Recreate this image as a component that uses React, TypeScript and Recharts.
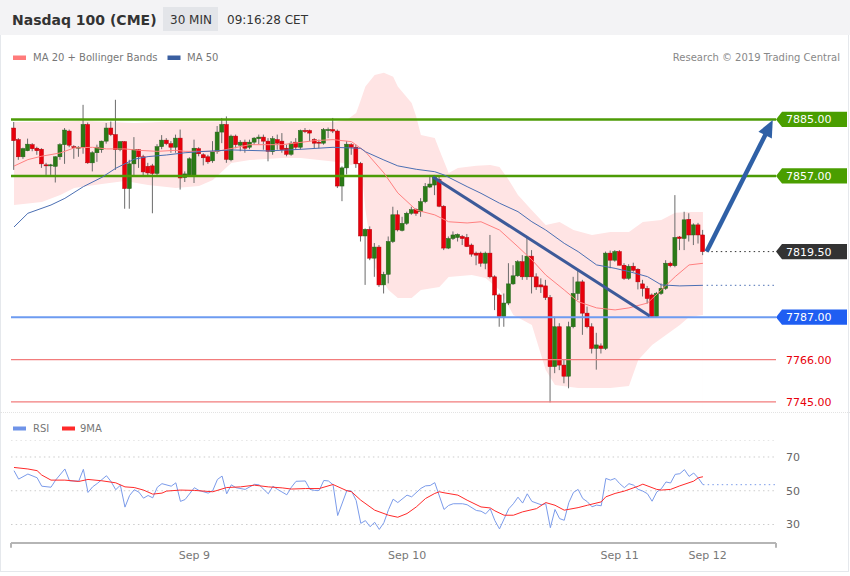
import React from 'react';
import { ComposedChart, Bar, Line, Area, XAxis, YAxis, ReferenceLine, CartesianGrid } from 'recharts';

const FONT = '"DejaVu Sans", Verdana, sans-serif';

// OHLC for each 30-min candle
const candles: [number, number, number, number][] = [
  [7880.75, 7883.75, 7860.0, 7874.5],
  [7875.0, 7875.75, 7865.0, 7866.5],
  [7866.5, 7871.0, 7865.5, 7870.5],
  [7869.5, 7875.5, 7869.25, 7872.75],
  [7872.5, 7873.25, 7869.25, 7870.5],
  [7870.75, 7871.5, 7867.5, 7869.5],
  [7870.25, 7870.75, 7861.0, 7863.0],
  [7862.5, 7863.5, 7857.5, 7862.0],
  [7862.25, 7863.0, 7857.5, 7862.5],
  [7861.75, 7866.75, 7853.75, 7866.5],
  [7866.5, 7873.25, 7865.0, 7872.5],
  [7872.5, 7880.75, 7863.0, 7879.75],
  [7879.25, 7880.0, 7871.25, 7872.25],
  [7871.5, 7872.25, 7865.5, 7871.25],
  [7871.0, 7871.75, 7866.5, 7871.25],
  [7871.25, 7892.25, 7868.0, 7882.5],
  [7882.5, 7883.5, 7863.0, 7863.5],
  [7863.5, 7869.25, 7859.25, 7868.5],
  [7868.5, 7872.5, 7864.0, 7871.25],
  [7870.0, 7874.5, 7868.5, 7874.25],
  [7874.25, 7883.25, 7873.0, 7880.75],
  [7880.75, 7884.0, 7876.75, 7877.5],
  [7877.5, 7894.75, 7860.0, 7870.0],
  [7870.0, 7874.25, 7869.25, 7874.0],
  [7874.0, 7874.25, 7840.75, 7850.75],
  [7850.75, 7865.0, 7840.75, 7863.0],
  [7863.0, 7876.25, 7857.25, 7870.0],
  [7870.0, 7870.25, 7861.0, 7866.5],
  [7866.5, 7867.5, 7856.75, 7859.0],
  [7861.75, 7863.5, 7857.25, 7858.5],
  [7862.0, 7863.0, 7838.5, 7858.25],
  [7858.25, 7872.75, 7856.75, 7871.5],
  [7871.5, 7877.25, 7870.25, 7874.75],
  [7874.75, 7875.75, 7872.25, 7873.0],
  [7873.0, 7874.25, 7868.5, 7871.25],
  [7871.25, 7877.5, 7868.5, 7875.75],
  [7875.75, 7880.0, 7850.25, 7856.0],
  [7856.25, 7859.25, 7854.0, 7858.0],
  [7857.5, 7866.25, 7856.75, 7865.5],
  [7857.5, 7875.0, 7853.5, 7870.75],
  [7870.5, 7871.25, 7866.75, 7868.0],
  [7867.5, 7868.25, 7862.25, 7866.0],
  [7866.5, 7867.5, 7863.0, 7864.0],
  [7864.5, 7874.25, 7863.5, 7869.0],
  [7869.0, 7881.75, 7868.0, 7878.75],
  [7878.75, 7885.75, 7873.25, 7882.5],
  [7882.5, 7886.5, 7863.5, 7865.25],
  [7865.0, 7877.5, 7864.25, 7876.75],
  [7876.75, 7877.5, 7870.75, 7872.5],
  [7872.25, 7874.75, 7869.25, 7873.75],
  [7873.75, 7875.0, 7868.5, 7870.75],
  [7871.25, 7875.0, 7870.25, 7873.75],
  [7873.75, 7876.25, 7872.5, 7875.75],
  [7875.5, 7877.5, 7872.75, 7876.25],
  [7876.25, 7877.5, 7870.0, 7874.25],
  [7874.25, 7875.75, 7864.25, 7869.25],
  [7869.0, 7876.75, 7867.5, 7875.5],
  [7875.0, 7877.5, 7870.0, 7873.25],
  [7874.25, 7878.25, 7868.5, 7870.0],
  [7870.75, 7872.5, 7866.75, 7867.75],
  [7867.75, 7874.25, 7867.0, 7873.25],
  [7873.75, 7875.75, 7870.0, 7871.25],
  [7871.25, 7880.0, 7870.0, 7879.5],
  [7879.5, 7880.75, 7878.25, 7879.25],
  [7879.5, 7880.0, 7874.25, 7878.25],
  [7875.0, 7875.75, 7870.75, 7873.25],
  [7873.75, 7875.0, 7870.75, 7873.25],
  [7873.25, 7880.75, 7872.5, 7880.0],
  [7880.0, 7881.0, 7875.75, 7880.0],
  [7880.0, 7885.75, 7878.25, 7879.25],
  [7879.25, 7880.0, 7851.0, 7852.0],
  [7852.0, 7861.75, 7844.5, 7861.0],
  [7861.0, 7874.25, 7857.75, 7872.75],
  [7872.5, 7873.25, 7867.5, 7871.25],
  [7871.25, 7872.5, 7861.0, 7863.0],
  [7863.25, 7864.0, 7824.5, 7827.25],
  [7827.25, 7831.0, 7803.0, 7830.5],
  [7830.5, 7832.0, 7815.25, 7816.25],
  [7816.25, 7823.75, 7807.0, 7821.75],
  [7821.75, 7822.75, 7802.0, 7803.0],
  [7803.0, 7809.5, 7798.75, 7808.25],
  [7808.25, 7827.0, 7803.75, 7824.5],
  [7824.5, 7841.75, 7823.75, 7837.75],
  [7837.75, 7840.0, 7829.5, 7830.25],
  [7830.0, 7836.75, 7829.5, 7833.5],
  [7833.5, 7839.25, 7832.75, 7838.5],
  [7838.5, 7841.75, 7837.75, 7840.25],
  [7840.25, 7841.0, 7837.25, 7838.5],
  [7839.25, 7846.0, 7836.75, 7844.25],
  [7844.25, 7853.5, 7843.5, 7851.75],
  [7851.5, 7857.5, 7851.0, 7853.0],
  [7852.5, 7857.5, 7847.5, 7856.5],
  [7855.25, 7856.5, 7841.5, 7842.0],
  [7842.0, 7842.5, 7820.25, 7821.25],
  [7821.25, 7827.0, 7820.75, 7826.0],
  [7826.0, 7829.5, 7825.25, 7827.75],
  [7826.5, 7828.5, 7824.5, 7828.0],
  [7827.0, 7827.75, 7822.75, 7826.0],
  [7826.5, 7828.25, 7821.75, 7822.0],
  [7822.75, 7823.5, 7817.0, 7818.25],
  [7818.75, 7819.5, 7812.75, 7817.75],
  [7818.75, 7819.5, 7812.0, 7813.75],
  [7813.75, 7819.5, 7810.75, 7818.75],
  [7818.75, 7827.75, 7806.25, 7807.0],
  [7807.0, 7807.75, 7790.5, 7798.0],
  [7798.0, 7798.75, 7782.25, 7787.25],
  [7787.25, 7798.75, 7782.25, 7794.0],
  [7794.0, 7813.75, 7793.0, 7803.5],
  [7803.5, 7812.75, 7803.0, 7807.5],
  [7807.5, 7815.25, 7807.0, 7814.5],
  [7814.5, 7817.75, 7805.5, 7807.0],
  [7807.0, 7827.0, 7805.5, 7817.25],
  [7817.25, 7820.25, 7798.75, 7807.0],
  [7807.0, 7808.75, 7800.5, 7802.0],
  [7803.0, 7806.25, 7799.0, 7802.0],
  [7802.5, 7805.5, 7795.5, 7796.75],
  [7796.75, 7798.0, 7744.75, 7762.5],
  [7762.5, 7787.25, 7759.25, 7782.25],
  [7782.25, 7784.0, 7760.75, 7763.25],
  [7763.25, 7765.75, 7754.25, 7757.75],
  [7757.75, 7784.75, 7751.75, 7782.25],
  [7782.25, 7807.0, 7781.5, 7798.75],
  [7798.75, 7810.5, 7795.5, 7804.5],
  [7804.5, 7805.5, 7778.25, 7789.0],
  [7789.0, 7792.25, 7781.5, 7782.25],
  [7782.25, 7784.0, 7769.0, 7771.5],
  [7771.5, 7779.25, 7761.0, 7773.25],
  [7772.75, 7774.0, 7769.0, 7771.5],
  [7771.5, 7819.5, 7770.75, 7818.75],
  [7818.75, 7820.0, 7811.25, 7815.25],
  [7815.25, 7820.25, 7814.5, 7819.5],
  [7819.5, 7820.25, 7812.75, 7812.75],
  [7812.75, 7813.75, 7805.5, 7806.25],
  [7806.25, 7813.25, 7805.5, 7812.25],
  [7812.25, 7814.0, 7809.5, 7810.25],
  [7810.75, 7811.25, 7800.75, 7804.5],
  [7803.5, 7805.5, 7797.25, 7801.25],
  [7801.25, 7802.5, 7793.75, 7796.25],
  [7798.0, 7798.75, 7787.0, 7787.25],
  [7787.25, 7799.5, 7787.0, 7798.75],
  [7798.75, 7803.75, 7798.0, 7801.25],
  [7801.25, 7815.25, 7800.5, 7813.75],
  [7813.75, 7814.5, 7811.75, 7812.5],
  [7812.5, 7847.5, 7811.75, 7826.5],
  [7826.75, 7827.25, 7820.25, 7826.0],
  [7826.0, 7839.25, 7820.25, 7835.25],
  [7835.5, 7838.5, 7824.5, 7827.75],
  [7827.75, 7833.5, 7822.75, 7832.75],
  [7832.75, 7833.75, 7823.5, 7827.75],
  [7827.75, 7830.25, 7817.75, 7819.5],
];

// Bollinger upper / lower band, MA20 and MA50: [candle index, price]
const upperBand: [number, number][] = [
  [0, 7883.8], [8, 7883.9], [15, 7884.3], [26, 7883.3], [33, 7883.9], [40, 7884.0], [47, 7884.0],
  [55, 7884.3], [62, 7883.8], [69, 7883.8], [72, 7884.8], [74, 7888.2], [75, 7894.7], [76, 7901.3],
  [78, 7907.1], [80, 7908.2], [82, 7906.2], [83, 7901.3], [86, 7893.2], [87, 7886.4], [88, 7877.3],
  [91, 7875.8], [92, 7869.9], [94, 7858.5], [96, 7861.0], [100, 7862.0], [103, 7862.4], [105, 7861.5],
  [107, 7855.0], [109, 7847.6], [112, 7840.0], [115, 7832.7], [118, 7834.2], [121, 7830.2], [125, 7827.7],
  [129, 7829.2], [133, 7829.2], [136, 7834.2], [140, 7835.2], [143, 7838.7], [146, 7839.1], [149, 7839.1],
];
const lowerBand: [number, number][] = [
  [0, 7842.6], [6, 7844.1], [10, 7847.6], [13, 7851.0], [19, 7853.0], [24, 7854.5], [29, 7852.5],
  [35, 7851.0], [40, 7852.0], [43, 7855.0], [47, 7863.4], [51, 7864.9], [58, 7865.9], [62, 7865.9],
  [66, 7864.9], [70, 7863.9], [73, 7862.4], [75, 7864.9], [76, 7840.1], [77, 7825.3], [78, 7811.9],
  [81, 7800.5], [83, 7796.5], [86, 7796.5], [88, 7800.5], [92, 7801.9], [94, 7806.9], [99, 7807.9],
  [102, 7806.4], [105, 7800.5], [108, 7788.1], [112, 7783.1], [115, 7760.8], [117, 7753.4], [122, 7751.9],
  [129, 7751.9], [133, 7752.9], [135, 7765.8], [138, 7773.2], [141, 7778.2], [144, 7783.1], [146, 7787.1],
  [149, 7788.1],
];
const ma20: [number, number][] = [
  [0, 7861.9], [3, 7865.1], [6, 7866.8], [10, 7868.4], [13, 7870.9], [17, 7871.2], [20, 7870.4],
  [24, 7870.4], [27, 7869.7], [31, 7869.2], [35, 7869.7], [37, 7869.2], [44, 7869.2], [51, 7872.5],
  [58, 7872.5], [65, 7874.5], [69, 7875.0], [73, 7874.0], [76, 7869.0], [80, 7858.5], [83, 7848.6],
  [87, 7840.1], [91, 7837.7], [94, 7834.3], [98, 7833.7], [101, 7834.3], [105, 7830.2], [109, 7821.9],
  [112, 7815.4], [115, 7807.9], [119, 7800.5], [122, 7794.7], [126, 7791.6], [130, 7790.6], [133, 7791.6],
  [137, 7794.0], [140, 7800.5], [143, 7807.1], [146, 7812.9], [149, 7813.7],
];
const ma50: [number, number][] = [
  [0, 7831.7], [3, 7838.5], [8, 7842.6], [11, 7845.9], [15, 7851.7], [19, 7856.3], [22, 7860.8],
  [26, 7865.3], [29, 7866.6], [33, 7867.4], [37, 7868.5], [40, 7869.0], [47, 7869.9], [55, 7869.4],
  [62, 7870.2], [69, 7871.2], [75, 7870.7], [76, 7869.0], [80, 7864.9], [83, 7862.0], [87, 7860.3],
  [91, 7859.1], [93, 7857.5], [98, 7851.7], [101, 7848.4], [105, 7843.5], [109, 7839.3], [112, 7834.3],
  [115, 7830.2], [119, 7823.6], [122, 7819.5], [126, 7812.9], [130, 7811.2], [133, 7809.6], [137, 7807.1],
  [140, 7803.0], [144, 7802.5], [149, 7802.8],
];

// RSI and its 9-period MA: [candle index, value]
const rsi: [number, number][] = [
  [0, 61.9], [1, 56.9], [3, 59.9], [5, 57.7], [6, 52.7], [8, 52.1], [9, 56.3], [11, 62.9], [12, 55.9],
  [14, 55.7], [15, 62.7], [16, 49.0], [17, 52.3], [18, 54.3], [20, 58.9], [21, 55.4], [22, 50.6],
  [23, 53.3], [24, 40.3], [25, 47.2], [26, 50.6], [27, 49.2], [28, 45.6], [29, 47.2], [30, 45.8],
  [31, 52.1], [32, 54.2], [34, 52.7], [35, 54.7], [36, 43.7], [37, 44.8], [39, 51.8], [40, 50.2],
  [42, 48.6], [43, 50.2], [44, 56.7], [45, 58.7], [46, 48.2], [47, 53.5], [48, 51.8], [50, 50.8],
  [52, 53.8], [53, 53.5], [55, 48.2], [56, 52.7], [57, 50.8], [59, 47.6], [60, 52.1], [61, 55.6],
  [63, 55.8], [64, 50.8], [65, 50.2], [66, 50.2], [67, 56.1], [68, 55.8], [69, 53.6], [70, 35.3],
  [72, 50.2], [73, 49.8], [74, 44.2], [75, 30.7], [76, 32.3], [77, 28.7], [78, 31.3], [79, 27.1],
  [80, 31.1], [81, 38.8], [82, 45.0], [83, 43.0], [85, 47.4], [86, 46.4], [88, 51.4], [89, 52.9],
  [90, 53.1], [91, 54.8], [93, 38.9], [94, 41.3], [95, 42.3], [97, 42.3], [98, 41.7], [100, 38.3],
  [101, 37.9], [102, 36.3], [103, 39.3], [104, 32.3], [105, 27.4], [107, 39.3], [108, 42.3], [109, 46.2],
  [110, 42.7], [111, 48.2], [112, 43.7], [114, 41.7], [115, 42.3], [116, 28.1], [117, 38.9], [118, 33.5],
  [119, 32.5], [120, 43.0], [121, 49.0], [122, 50.8], [123, 45.4], [124, 43.5], [125, 40.5], [126, 41.5],
  [127, 41.1], [128, 57.3], [129, 56.3], [130, 57.3], [131, 54.2], [132, 51.8], [133, 54.2], [134, 53.3],
  [135, 50.8], [136, 49.8], [137, 48.2], [138, 43.8], [139, 49.2], [140, 51.2], [141, 55.2], [142, 54.6],
  [143, 59.7], [144, 60.1], [145, 62.5], [146, 58.5], [147, 60.5], [148, 57.5], [149, 53.6],
];
const rsiMa: [number, number][] = [
  [0, 63.8], [3, 62.9], [5, 61.9], [6, 59.3], [8, 56.3], [11, 56.3], [14, 55.5], [16, 56.7], [19, 55.9],
  [22, 54.7], [24, 52.3], [26, 51.9], [28, 50.4], [30, 48.0], [32, 48.6], [33, 49.8], [36, 50.4],
  [39, 50.2], [43, 49.4], [46, 51.9], [49, 52.3], [52, 53.3], [55, 52.3], [58, 51.7], [60, 51.0],
  [63, 51.3], [66, 51.3], [69, 53.7], [72, 50.0], [73, 49.4], [75, 44.4], [78, 38.5], [81, 35.5],
  [83, 34.3], [85, 36.5], [87, 40.4], [89, 45.4], [91, 48.4], [92, 49.4], [93, 48.8], [96, 47.4],
  [98, 44.4], [101, 40.4], [103, 39.8], [104, 38.1], [106, 35.5], [108, 35.5], [110, 37.5], [113, 39.4],
  [115, 43.0], [117, 41.4], [119, 38.5], [122, 40.0], [124, 41.4], [127, 43.4], [128, 46.4], [130, 48.4],
  [132, 49.8], [135, 52.7], [136, 53.9], [139, 50.8], [140, 50.4], [142, 50.8], [144, 52.9], [147, 55.7],
  [148, 57.7], [149, 58.3],
];

const dayTicks = [39, 85, 131, 150];
const dayLabels = ['Sep 9', 'Sep 10', 'Sep 11', 'Sep 12'];

const resistance = [7885, 7857];
const pivot = 7787;
const supports = [7766, 7745];
const lastPrice = 7819.5;
const lastMa50 = 7802.8;
const lastRsi = 53.6;
const trendLine: [number, number][] = [[90.6, 7856.5], [137.5, 7787.6]];
const targetArrow: [number, number][] = [[149.8, 7819.5], [164.1, 7884.75]];

const X_DOMAIN: [number, number] = [-0.65, 164.8];
const Y_DOMAIN: [number, number] = [7740.0, 7911.5];
const RSI_DOMAIN: [number, number] = [19.04, 80.07];

const candleData = candles.map((c, i) => ({ i, o: c[0], h: c[1], l: c[2], c: c[3] }));
const toPts = (a: [number, number][]) => a.map(([i, v]) => ({ i, v }));

const UP = '#2b7a16';
const DOWN = '#e8000b';

const Candle = (props: any) => {
  const { x, y, width, height, payload } = props;
  if (x == null || y == null) return null;
  const top = Math.min(y, y + height);
  const bot = Math.max(y, y + height);
  const { o, h, l, c } = payload;
  const k = h - l > 0 ? (bot - top) / (h - l) : 0;
  const yOf = (v: number) => top + (h - v) * k;
  const cx = x + width / 2;
  const bTop = yOf(Math.max(o, c));
  const bBot = yOf(Math.min(o, c));
  const up = c >= o;
  return (
    <g>
      <line x1={cx} x2={cx} y1={top} y2={bot} stroke="#6b6b6b" strokeWidth={1} />
      <rect x={x} y={bTop} width={width} height={Math.max(1, bBot - bTop)} fill={up ? UP : DOWN} stroke={up ? '#23621a' : '#b3000a'} strokeWidth={0.5} />
    </g>
  );
};

const Tag = (props: any) => {
  const { viewBox, text, bg, color } = props;
  if (!viewBox) return null;
  const x0 = viewBox.x + viewBox.width;
  const y = viewBox.y;
  return (
    <g>
      {bg ? (
        <polygon
          points={`${x0},${y} ${x0 + 6},${y - 7.6} ${x0 + 71},${y - 7.6} ${x0 + 71},${y + 7.6} ${x0 + 6},${y + 7.6}`}
          fill={bg}
        />
      ) : null}
      <text x={x0 + 10} y={y + 4} fill={color} fontSize={11} fontFamily={FONT}>
        {text}
      </text>
    </g>
  );
};

const Arrow = (props: any) => {
  const { x1, y1, x2, y2 } = props;
  if ([x1, y1, x2, y2].some((v) => v == null || isNaN(v))) return null;
  const dx = x2 - x1;
  const dy = y2 - y1;
  const len = Math.sqrt(dx * dx + dy * dy);
  const ux = dx / len;
  const uy = dy / len;
  const hl = 17;
  const hw = 7.5;
  const bx = x2 - ux * hl;
  const by = y2 - uy * hl;
  const px = -uy;
  const py = ux;
  return (
    <g>
      <line x1={x1} y1={y1} x2={bx + ux * 2} y2={by + uy * 2} stroke="#2f60a6" strokeWidth={4.5} />
      <polygon points={`${x2},${y2} ${bx + px * hw},${by + py * hw} ${bx - px * hw},${by - py * hw}`} fill="#2f60a6" />
    </g>
  );
};

export default function App() {
  return (
    <div style={{ position: 'absolute', left: 0, top: 0, width: 850, height: 576, background: '#fff', overflow: 'hidden', fontFamily: FONT }}>
      <div style={{ position: 'absolute', left: 0, top: 0, width: 849, height: 572, border: '1px solid #e5e8ec', borderTop: 'none', boxSizing: 'border-box' }} />
      <svg width={850} height={70} style={{ position: 'absolute', left: 0, top: 0 }}>
        <rect x={0} y={0} width={850} height={35} fill="#f3f3f5" />
        <text x={12} y={25} fontSize={14} fontWeight="bold" fill="#333" fontFamily={FONT}>Nasdaq 100 (CME)</text>
        <rect x={163} y={7} width={55} height={24} fill="#e3e5e9" />
        <text x={170} y={23.5} fontSize={12} fill="#333" fontFamily={FONT}>30 MIN</text>
        <text x={227} y={23.5} fontSize={12} fill="#333" fontFamily={FONT}>09:16:28 CET</text>
        <rect x={13} y={55.5} width={13} height={4.5} fill="#ff7b7b" />
        <text x={33} y={61} fontSize={10} fill="#777" fontFamily={FONT}>MA 20 + Bollinger Bands</text>
        <rect x={167.5} y={55.5} width={13} height={4.5} fill="#3a5fa0" />
        <text x={187} y={61} fontSize={10} fill="#777" fontFamily={FONT}>MA 50</text>
        <text x={840} y={61} fontSize={10} fill="#888" textAnchor="end" fontFamily={FONT}>Research © 2019 Trading Central</text>
      </svg>

      <div style={{ position: 'absolute', left: 0, top: 66 }}>
        <ComposedChart width={850} height={346} data={candleData} margin={{ top: 0, right: 74, bottom: 0, left: 11 }}>
          <XAxis dataKey="i" type="number" domain={X_DOMAIN} allowDataOverflow hide />
          <YAxis type="number" domain={Y_DOMAIN} allowDataOverflow hide />
          <Area data={toPts(upperBand)} dataKey="v" type="linear" stroke="none" fill="#ffe4e4" fillOpacity={1} isAnimationActive={false} />
          <Area data={toPts(lowerBand)} dataKey="v" type="linear" stroke="none" fill="#ffffff" fillOpacity={1} isAnimationActive={false} />
          {resistance.map((v) => (
            <ReferenceLine key={v} y={v} stroke="#4c9b06" strokeWidth={2.5}
              label={(p: any) => <Tag {...p} text={v.toFixed(2)} bg="#4a9e00" color="#fff" />} />
          ))}
          <ReferenceLine y={pivot} stroke="#6d9bf1" strokeWidth={2}
            label={(p: any) => <Tag {...p} text={pivot.toFixed(2)} bg="#1f5ef2" color="#fff" />} />
          {supports.map((v) => (
            <ReferenceLine key={v} y={v} stroke="#f27c7c" strokeWidth={1.2}
              label={(p: any) => <Tag {...p} text={v.toFixed(2)} color="#e8000b" />} />
          ))}
          <ReferenceLine segment={[{ x: 149.8, y: lastMa50 }, { x: X_DOMAIN[1], y: lastMa50 }]} stroke="#4b6fb3" strokeDasharray="1.5 3.2" />
          <ReferenceLine segment={[{ x: 149.8, y: lastPrice }, { x: X_DOMAIN[1], y: lastPrice }]} stroke="#333" strokeDasharray="1.5 3.2"
            label={(p: any) => <Tag {...p} text={lastPrice.toFixed(2)} bg="#333333" color="#fff" />} />
          <Line data={toPts(ma20)} dataKey="v" type="linear" stroke="#ff8080" strokeWidth={1} dot={false} isAnimationActive={false} />
          <Line data={toPts(ma50)} dataKey="v" type="linear" stroke="#4b6fb3" strokeWidth={1} dot={false} isAnimationActive={false} />
          <Bar dataKey={(d: any) => [d.l, d.h]} barSize={4} shape={<Candle />} isAnimationActive={false} />
          <ReferenceLine segment={[{ x: trendLine[0][0], y: trendLine[0][1] }, { x: trendLine[1][0], y: trendLine[1][1] }]} stroke="#3d5a99" strokeWidth={3} />
          <ReferenceLine segment={[{ x: targetArrow[0][0], y: targetArrow[0][1] }, { x: targetArrow[1][0], y: targetArrow[1][1] }]} shape={(p: any) => <Arrow {...p} />} />
        </ComposedChart>
      </div>

      <div style={{ position: 'absolute', left: 0, top: 412, width: 850, borderTop: '1px dotted #e3e3e3' }} />

      <svg width={140} height={20} style={{ position: 'absolute', left: 0, top: 418 }}>
        <rect x={13} y={8.5} width={13} height={4} fill="#6f93e8" />
        <text x={33} y={14} fontSize={10} fill="#777" fontFamily={FONT}>RSI</text>
        <rect x={62} y={8.5} width={13} height={4} fill="#ff2a2a" />
        <text x={80} y={14} fontSize={10} fill="#777" fontFamily={FONT}>9MA</text>
      </svg>

      <div style={{ position: 'absolute', left: 0, top: 440 }}>
        <ComposedChart width={850} height={136} data={toPts(rsi)} margin={{ top: 0, right: 0, bottom: 0, left: 11 }}>
          <CartesianGrid vertical={false} stroke="#cccccc" strokeDasharray="1.5 3.2" />
          <XAxis dataKey="i" type="number" domain={X_DOMAIN} allowDataOverflow ticks={dayTicks} height={33}
            tickFormatter={(v: number) => dayLabels[dayTicks.indexOf(v)] ?? ''}
            tickLine={false} axisLine={{ stroke: '#b5b5b5', strokeWidth: 2 }}
            tick={{ fill: '#777', fontSize: 11, fontFamily: FONT }} interval={0} />
          <YAxis orientation="right" type="number" domain={RSI_DOMAIN} allowDataOverflow ticks={[30, 50, 70]} width={74}
            axisLine={false} tickLine={false} tickMargin={4}
            tick={{ fill: '#666', fontSize: 11, fontFamily: FONT, textAnchor: 'start' }} />
          <Line dataKey="v" type="linear" stroke="#7b9bea" strokeWidth={1} dot={false} isAnimationActive={false} />
          <Line data={toPts(rsiMa)} dataKey="v" type="linear" stroke="#ff2a2a" strokeWidth={1} dot={false} isAnimationActive={false} />
          <ReferenceLine segment={[{ x: 149, y: lastRsi }, { x: X_DOMAIN[1], y: lastRsi }]} stroke="#7b9bea" strokeDasharray="1.5 3.2" />
          <ReferenceLine segment={[{ x: X_DOMAIN[0], y: RSI_DOMAIN[0] }, { x: X_DOMAIN[0], y: 16.2 }]} stroke="#b5b5b5" strokeWidth={2} ifOverflow="visible" />
          <ReferenceLine segment={[{ x: X_DOMAIN[1], y: RSI_DOMAIN[0] }, { x: X_DOMAIN[1], y: 16.2 }]} stroke="#b5b5b5" strokeWidth={2} ifOverflow="visible" />
        </ComposedChart>
      </div>
    </div>
  );
}
